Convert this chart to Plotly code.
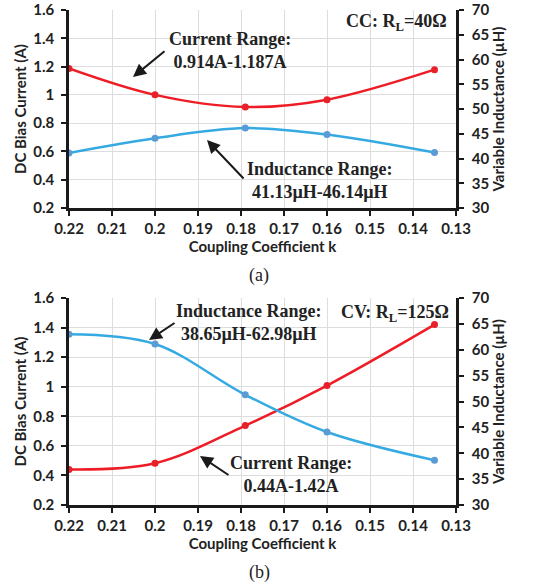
import plotly.graph_objects as go

# ---------------- data ----------------
k_values = [0.22, 0.20, 0.179, 0.16, 0.135]

cc_current = [1.187, 1.00, 0.914, 0.966, 1.178]
cc_inductance = [41.13, 44.1, 46.14, 44.85, 41.2]

cv_current = [0.44, 0.482, 0.737, 1.008, 1.42]
cv_inductance = [62.98, 61.1, 51.3, 44.1, 38.65]

x_tick_vals = [0.22, 0.21, 0.20, 0.19, 0.18, 0.17, 0.16, 0.15, 0.14, 0.13]
x_tick_text = ["0.22", "0.21", "0.2", "0.19", "0.18", "0.17", "0.16", "0.15", "0.14", "0.13"]
left_tick_vals = [0.2, 0.4, 0.6, 0.8, 1.0, 1.2, 1.4, 1.6]
left_tick_text = ["0.2", "0.4", "0.6", "0.8", "1", "1.2", "1.4", "1.6"]
right_tick_vals = [30, 35, 40, 45, 50, 55, 60, 65, 70]
right_tick_text = ["30", "35", "40", "45", "50", "55", "60", "65", "70"]

# ---------------- style ----------------
W, H = 542, 586
L, R, T, B = 69, 456, 10, 505   # plot region edges in pixels
RED_LINE = "#EE1C25"
RED_MARK = "#E8202A"
BLUE_LINE = "#35AAE2"
BLUE_MARK = "#5B9BD5"
GRID = "#DDDDDD"
DARK = "#222222"
TICKFONT = dict(family="Lato", size=15, color=DARK, weight="bold")
TITLEFONT = dict(family="Lato", size=15, color=DARK, weight="bold")
SERIF = "Liberation Serif"

def px_x(x):
    return (x - L) / (R - L)

def px_y(y):
    return 1 - (y - T) / (B - T)

xdom = [0, 1]
top_dom = [px_y(208), 1]
bot_dom = [0, px_y(298)]

fig = go.Figure()

def add_pair(xa, ya_left, ya_right, cur, ind):
    fig.add_trace(go.Scatter(
        x=k_values, y=cur, mode="lines+markers",
        line=dict(color=RED_LINE, width=2.5, shape="spline", smoothing=1.0),
        marker=dict(color=RED_MARK, size=7),
        xaxis=xa, yaxis=ya_left, showlegend=False))
    fig.add_trace(go.Scatter(
        x=k_values, y=ind, mode="lines+markers",
        line=dict(color=BLUE_LINE, width=2.5, shape="spline", smoothing=1.0),
        marker=dict(color=BLUE_MARK, size=7),
        xaxis=xa, yaxis=ya_right, showlegend=False))

add_pair("x", "y", "y2", cc_current, cc_inductance)
add_pair("x2", "y3", "y4", cv_current, cv_inductance)

def xaxis_cfg(anchor):
    return dict(
        domain=xdom, anchor=anchor, range=[0.22, 0.13], automargin=False,
        tickvals=x_tick_vals, ticktext=x_tick_text, ticklabeloverflow="allow",
        tickfont=TICKFONT, ticks="outside", ticklen=5, tickwidth=2, tickcolor="#1a1a1a",
        showline=True, linecolor="#1a1a1a", linewidth=2.5,
        showgrid=True, gridcolor=GRID, gridwidth=1, zeroline=False,
        title=dict(text="Coupling Coefficient k", font=TITLEFONT, standoff=2),
    )

def yleft_cfg(anchor, dom):
    return dict(
        domain=dom, anchor=anchor, range=[0.2, 1.6], automargin=False,
        tickvals=left_tick_vals, ticktext=left_tick_text, ticklabeloverflow="allow",
        ticklabelstandoff=4,
        tickfont=TICKFONT, ticks="outside", ticklen=5, tickwidth=2, tickcolor="#1a1a1a",
        showline=True, linecolor="#1a1a1a", linewidth=2.5,
        showgrid=True, gridcolor=GRID, gridwidth=1, zeroline=False,
        title=dict(text="DC Bias Current (A)", font=TITLEFONT, standoff=4),
    )

def yright_cfg(anchor, overlay):
    return dict(
        overlaying=overlay, anchor=anchor, side="right", range=[30, 70], automargin=False,
        tickvals=right_tick_vals, ticktext=right_tick_text, ticklabeloverflow="allow",
        ticklabelstandoff=5,
        tickfont=TICKFONT, ticks="outside", ticklen=5, tickwidth=2, tickcolor="#1a1a1a",
        showline=True, linecolor="#1a1a1a", linewidth=2.5,
        showgrid=False, zeroline=False,
        title=dict(text="Variable Inductance (µH)", font=TITLEFONT, standoff=0),
    )

fig.update_layout(
    width=W, height=H,
    margin=dict(l=L, r=W - R, t=T, b=H - B, pad=0),
    paper_bgcolor="white", plot_bgcolor="white",
    xaxis=xaxis_cfg("y"),
    yaxis=yleft_cfg("x", top_dom),
    yaxis2=yright_cfg("x", "y"),
    xaxis2=xaxis_cfg("y3"),
    yaxis3=yleft_cfg("x2", bot_dom),
    yaxis4=yright_cfg("x2", "y3"),
)

def text_ann(x, y, text, size=18, bold=True):
    fig.add_annotation(
        x=px_x(x), y=px_y(y), xref="paper", yref="paper",
        text=("<b>%s</b>" % text) if bold else text, showarrow=False,
        font=dict(family=SERIF, size=size, color=DARK),
        xanchor="center", yanchor="middle", align="center")

def arrow_ann(head, tail):
    fig.add_annotation(
        x=px_x(head[0]), y=px_y(head[1]), xref="paper", yref="paper",
        ax=tail[0] - head[0], ay=tail[1] - head[1], axref="pixel", ayref="pixel",
        text="", showarrow=True, arrowhead=2, arrowsize=1.3, arrowwidth=2,
        arrowcolor="#1a1a1a")

# panel (a)
text_ann(230, 51, "Current Range:<br>0.914A-1.187A")
arrow_ann((133, 77), (166, 50))
text_ann(320, 180, "Inductance Range:<br>41.13µH-46.14µH")
arrow_ann((207, 140), (245, 180))
text_ann(396, 23, "CC: R<sub>L</sub>=40Ω")
text_ann(259, 275, "(a)", size=18, bold=False)

# panel (b)
text_ann(249, 322, "Inductance Range:<br>38.65µH-62.98µH")
arrow_ann((149, 340), (176, 322))
text_ann(291, 474, "Current Range:<br>0.44A-1.42A")
arrow_ann((200, 456), (230, 476))
text_ann(395, 313, "CV: R<sub>L</sub>=125Ω")
text_ann(259, 572, "(b)", size=18, bold=False)

fig.write_html("out.html")
